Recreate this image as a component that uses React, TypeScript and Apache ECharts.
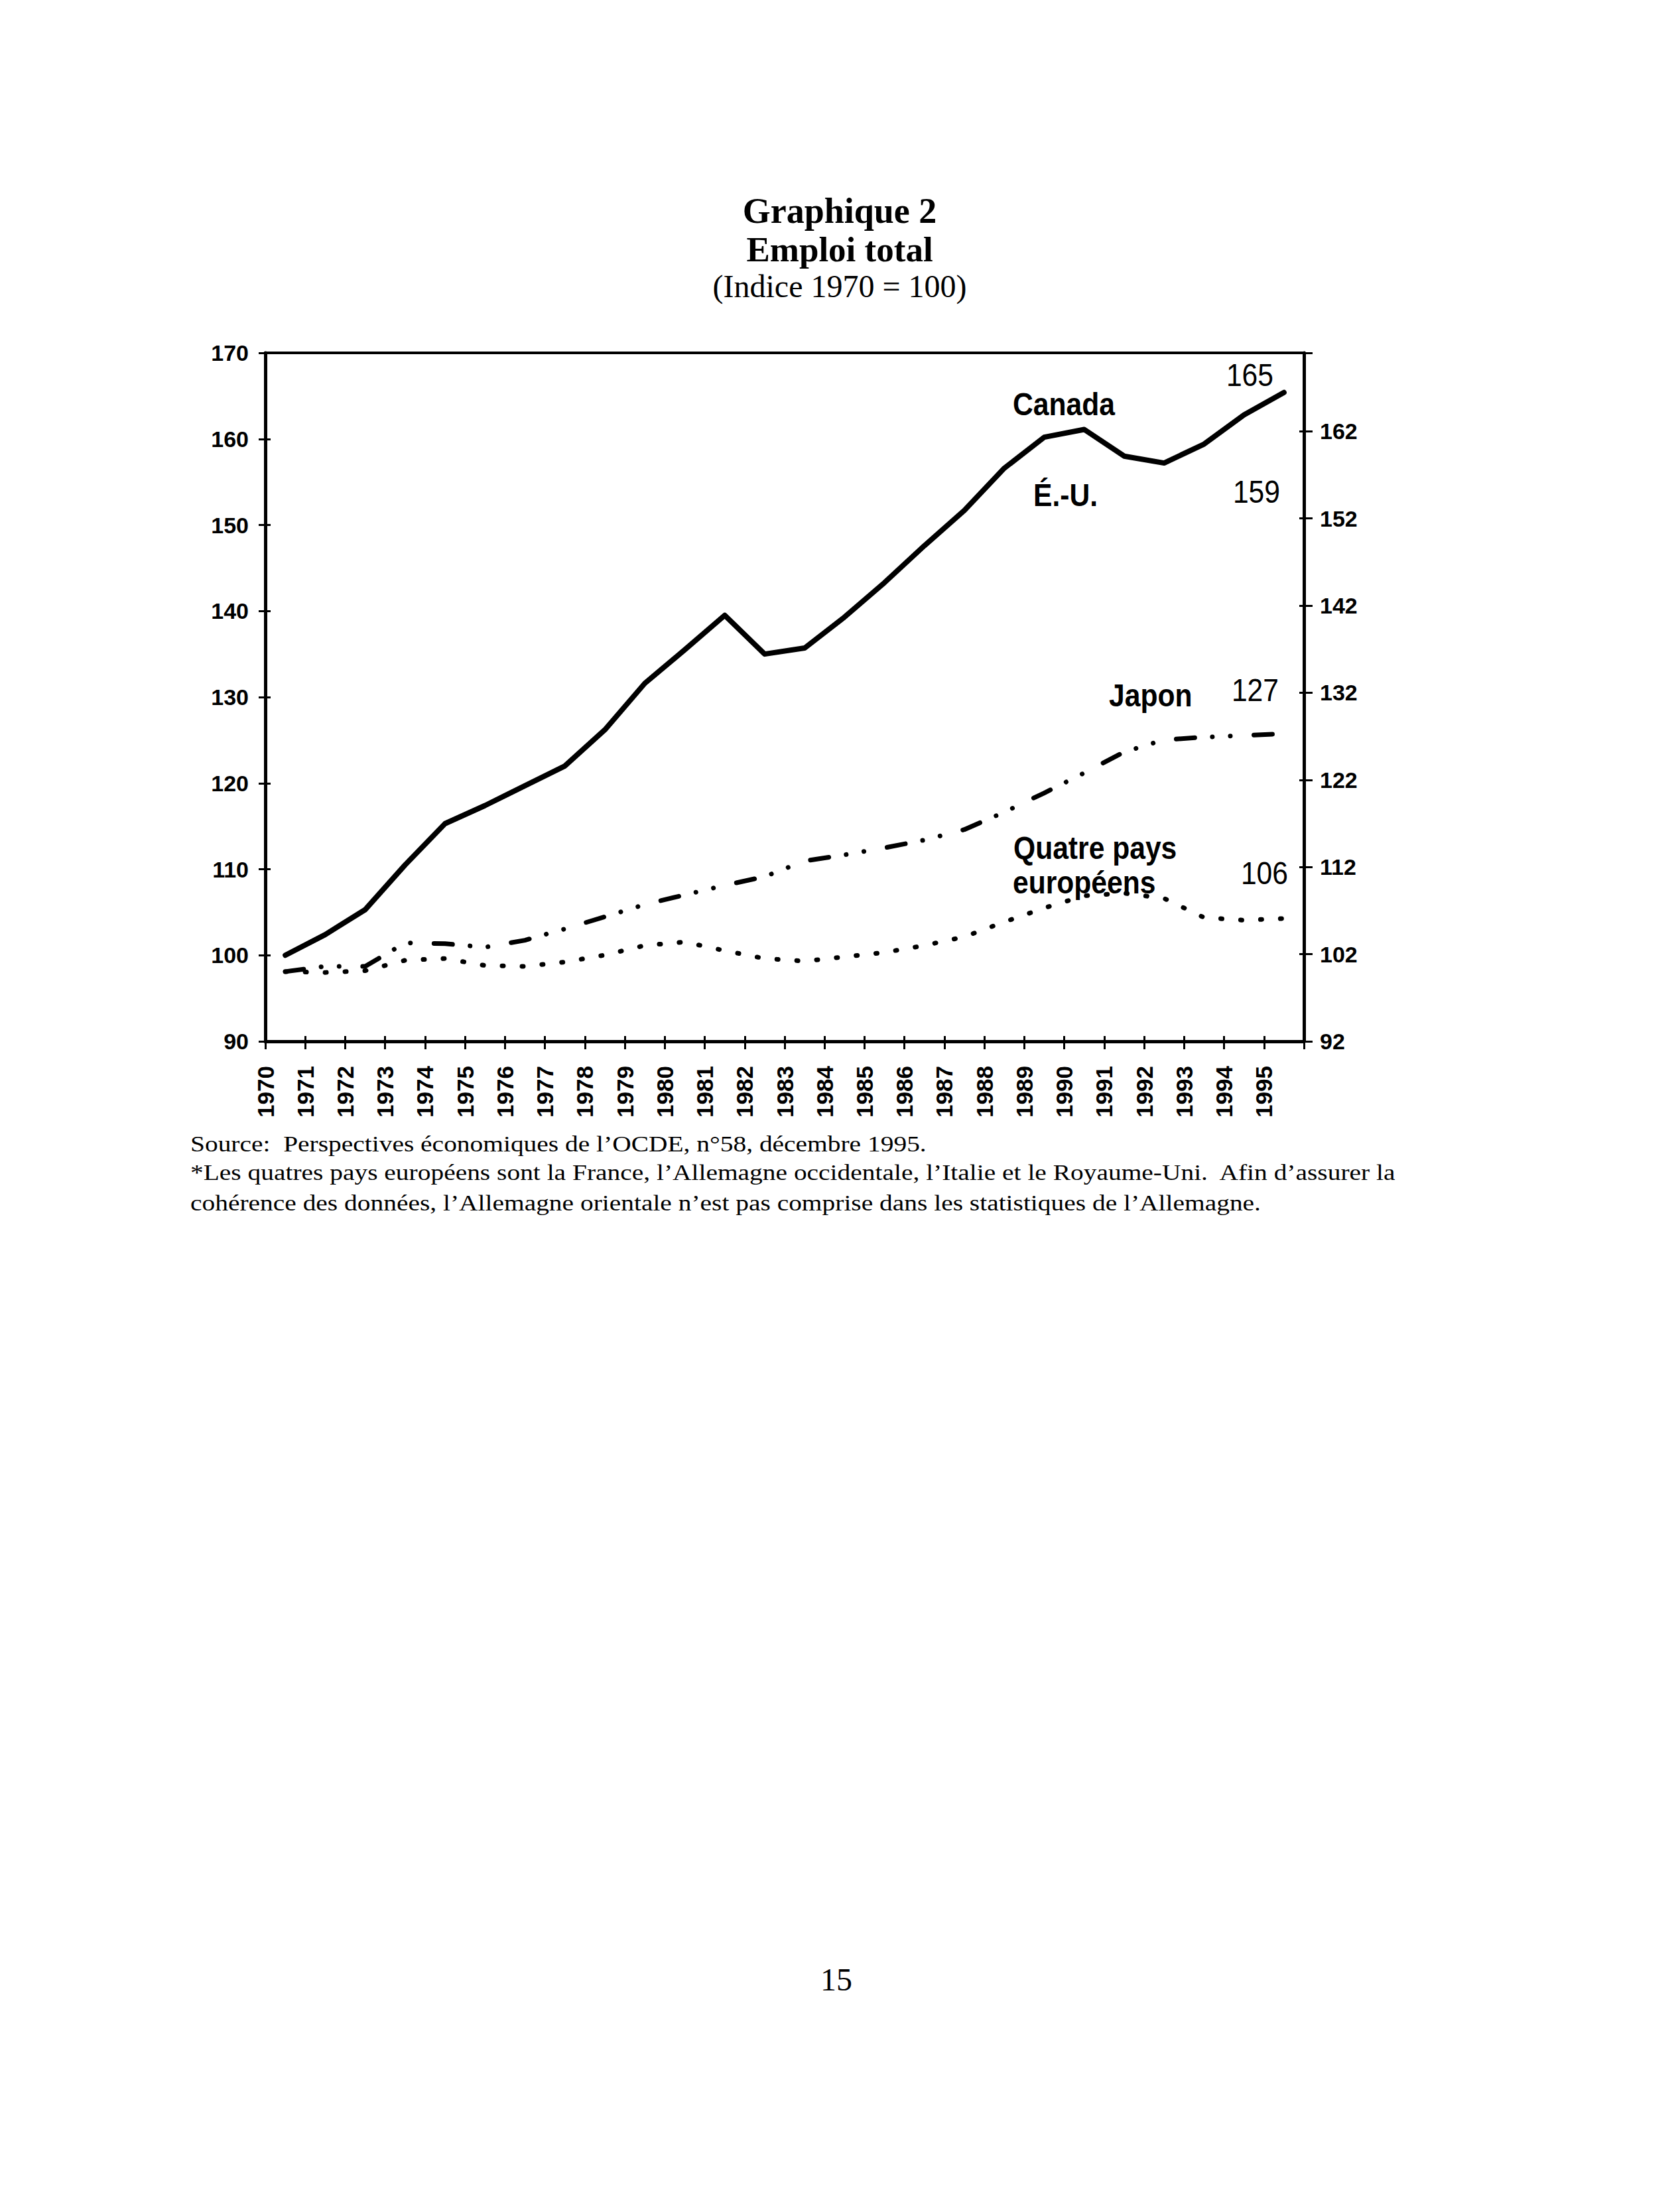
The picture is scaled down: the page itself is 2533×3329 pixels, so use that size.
import React, { useEffect, useRef } from 'react';
import * as echarts from 'echarts';

// ---------- data ----------
const YEARS = [
  '1970', '1971', '1972', '1973', '1974', '1975', '1976', '1977', '1978', '1979',
  '1980', '1981', '1982', '1983', '1984', '1985', '1986', '1987', '1988', '1989',
  '1990', '1991', '1992', '1993', '1994', '1995',
];
// Canada (left axis)
const CANADA = [
  100.0, 102.4, 105.3, 110.5, 115.3, 117.4, 119.7, 122.0, 126.2, 131.6,
  135.5, 139.5, 135.0, 135.7, 139.3, 143.3, 147.6, 151.7, 156.6, 160.2,
  161.1, 158.0, 157.2, 159.4, 162.8, 165.4,
];
// Japon (right axis)
const JAPON = [
  100.0, 100.6, 100.6, 103.3, 103.2, 102.8, 103.6, 104.9, 106.3, 107.7,
  108.8, 109.9, 110.9, 112.7, 113.4, 114.2, 115.1, 116.3, 118.3, 120.5,
  122.8, 125.2, 126.6, 126.9, 127.1, 127.3,
];
// Quatre pays européens (right axis)
const EUROPE = [
  100.0, 99.9, 100.1, 101.3, 101.5, 100.7, 100.6, 101.1, 101.9, 103.0,
  103.4, 102.4, 101.5, 101.2, 101.7, 102.2, 103.0, 104.0, 105.7, 107.3,
  108.7, 109.0, 108.4, 106.2, 105.9, 106.1,
];
const LEFT_AXIS = [90, 170, 10]; // min, max, step
const RIGHT_AXIS = [92, 171, 10];
const RIGHT_LAST_LABEL = 162;

const TITLE_LINES = ['Graphique 2', 'Emploi total', '(Indice 1970 = 100)'];
const SOURCE_LINES = [
  'Source:\u00a0 Perspectives économiques de l’OCDE, n°58, décembre 1995.',
  '*Les quatres pays européens sont la France, l’Allemagne occidentale, l’Italie et le Royaume-Uni.\u00a0 Afin d’assurer la',
  'cohérence des données, l’Allemagne orientale n’est pas comprise dans les statistiques de l’Allemagne.',
];
const SERIES_NAMES = ['Canada', 'É.-U.', 'Japon', 'Quatre pays', 'européens'];
const END_VALUES = ['165', '159', '127', '106'];
const PAGE_NUMBER = '15';

// ---------- styles ----------
const SANS = '"Liberation Sans", Arial, sans-serif';
const SERIF = '"Liberation Serif", "Times New Roman", serif';
const BLACK = '#000';

const txt = (text: string, x: number, y: number, font: string, align = 'left', scaleX = 1) => ({
  type: 'text',
  x,
  y,
  scaleX,
  silent: true,
  style: {
    text,
    font,
    fill: BLACK,
    align,
    verticalAlign: 'middle',
    textAlign: align,
    textVerticalAlign: 'middle',
  },
});

export default function App() {
  const ref = useRef<HTMLDivElement>(null);

  useEffect(() => {
    if (!ref.current) return;
    const chart = echarts.init(ref.current, null, { renderer: 'svg' });

    const labelFontB = `bold 49px ${SANS}`;
    const labelFontR = `49px ${SANS}`;
    const NARROW = 0.87;
    const SOURCE_FONT = `34px ${SERIF}`;
    const SOURCE_WIDE = 1.16;

    const axisLabelStyle = {
      color: BLACK,
      fontFamily: SANS,
      fontWeight: 'bold' as const,
      fontSize: 34,
    };

    const option: any = {
      animation: false,
      backgroundColor: '#fff',
      grid: {
        left: 400,
        top: 532,
        width: 1566,
        height: 1038,
        show: true,
        borderColor: BLACK,
        borderWidth: 4,
        backgroundColor: 'transparent',
        containLabel: false,
      },
      xAxis: [
        {
          type: 'category',
          data: YEARS,
          boundaryGap: true,
          position: 'bottom',
          axisLine: { show: true, lineStyle: { color: BLACK, width: 5 } },
          axisTick: { show: true, interval: 0, length: 12, lineStyle: { color: BLACK, width: 3 } },
          axisLabel: { show: false },
          splitLine: { show: false },
        },
        {
          type: 'category',
          data: [...YEARS, ''],
          boundaryGap: false,
          position: 'bottom',
          axisLine: { show: false },
          axisTick: { show: false },
          axisLabel: {
            show: true,
            interval: 0,
            rotate: 90,
            margin: 37,
            color: BLACK,
            fontFamily: SANS,
            fontWeight: 'bold',
            fontSize: 35,
          },
          splitLine: { show: false },
        },
        {
          type: 'category',
          data: YEARS,
          boundaryGap: true,
          position: 'bottom',
          axisLine: { show: false },
          axisTick: { show: true, inside: true, interval: 0, length: 8, lineStyle: { color: BLACK, width: 3 } },
          axisLabel: { show: false },
          splitLine: { show: false },
        },
      ],
      yAxis: [
        {
          type: 'value',
          position: 'left',
          min: LEFT_AXIS[0],
          max: LEFT_AXIS[1],
          interval: LEFT_AXIS[2],
          axisLine: { show: true, lineStyle: { color: BLACK, width: 5 } },
          axisTick: { show: true, length: 10, lineStyle: { color: BLACK, width: 3 } },
          axisLabel: { ...axisLabelStyle, margin: 25 },
          splitLine: { show: false },
        },
        {
          type: 'value',
          position: 'right',
          min: RIGHT_AXIS[0],
          max: RIGHT_AXIS[1],
          interval: RIGHT_AXIS[2],
          axisLine: { show: true, lineStyle: { color: BLACK, width: 5 } },
          axisTick: { show: true, length: 13, lineStyle: { color: BLACK, width: 3 } },
          axisLabel: {
            ...axisLabelStyle,
            margin: 24,
            formatter: (v: number) => (v > RIGHT_LAST_LABEL + 1 ? '' : String(Math.round(v))),
          },
          splitLine: { show: false },
        },
        {
          type: 'value',
          position: 'left',
          min: LEFT_AXIS[0],
          max: LEFT_AXIS[1],
          interval: LEFT_AXIS[2],
          axisLine: { show: false },
          axisTick: { show: true, inside: true, length: 8, lineStyle: { color: BLACK, width: 3 } },
          axisLabel: { show: false },
          splitLine: { show: false },
        },
        {
          type: 'value',
          position: 'right',
          min: RIGHT_AXIS[0],
          max: RIGHT_AXIS[1],
          interval: RIGHT_AXIS[2],
          axisLine: { show: false },
          axisTick: { show: true, inside: true, length: 7, lineStyle: { color: BLACK, width: 3 } },
          axisLabel: { show: false },
          splitLine: { show: false },
        },
      ],
      series: [
        {
          type: 'line',
          name: 'Canada',
          data: CANADA,
          xAxisIndex: 0,
          yAxisIndex: 0,
          symbol: 'none',
          silent: true,
          lineStyle: { color: BLACK, width: 8, cap: 'round', join: 'round' },
        },
        {
          type: 'line',
          name: 'Japon',
          data: JAPON,
          xAxisIndex: 0,
          yAxisIndex: 1,
          symbol: 'none',
          silent: true,
          lineStyle: {
            color: BLACK,
            width: 7,
            type: [28, 26.5, 0.1, 27, 0.1, 35.5],
            cap: 'round',
            join: 'round',
          },
        },
        {
          type: 'line',
          name: 'Quatre pays européens',
          data: EUROPE,
          xAxisIndex: 0,
          yAxisIndex: 1,
          symbol: 'none',
          silent: true,
          lineStyle: { color: BLACK, width: 7, type: [2, 28], cap: 'round', join: 'round' },
        },
      ],
      graphic: [
        txt(TITLE_LINES[0], 1266, 318, `bold 54px ${SERIF}`, 'center'),
        txt(TITLE_LINES[1], 1266, 376, `bold 53px ${SERIF}`, 'center'),
        txt(TITLE_LINES[2], 1266, 431, `48px ${SERIF}`, 'center'),

        txt(SERIES_NAMES[0], 1527, 609, labelFontB, 'left', NARROW),
        txt(END_VALUES[0], 1920, 565, labelFontR, 'right', NARROW),
        txt(SERIES_NAMES[1], 1558, 746, labelFontB, 'left', NARROW),
        txt(END_VALUES[1], 1930, 741, labelFontR, 'right', NARROW),
        txt(SERIES_NAMES[2], 1672, 1048, labelFontB, 'left', NARROW),
        txt(END_VALUES[2], 1928, 1040, labelFontR, 'right', NARROW),
        txt(SERIES_NAMES[3], 1528, 1278, labelFontB, 'left', NARROW),
        txt(SERIES_NAMES[4], 1527, 1330, labelFontB, 'left', NARROW),
        txt(END_VALUES[3], 1942, 1316, labelFontR, 'right', NARROW),

        txt(SOURCE_LINES[0], 287, 1724, SOURCE_FONT, 'left', SOURCE_WIDE),
        txt(SOURCE_LINES[1], 287, 1767, SOURCE_FONT, 'left', SOURCE_WIDE),
        txt(SOURCE_LINES[2], 287, 1813, SOURCE_FONT, 'left', SOURCE_WIDE),

        txt(PAGE_NUMBER, 1261, 2984, `48px ${SERIF}`, 'center'),
      ],
    };

    chart.setOption(option);
    return () => chart.dispose();
  }, []);

  return (
    <div
      ref={ref}
      style={{ position: 'absolute', left: 0, top: 0, width: 2533, height: 3329, background: '#fff' }}
    />
  );
}
